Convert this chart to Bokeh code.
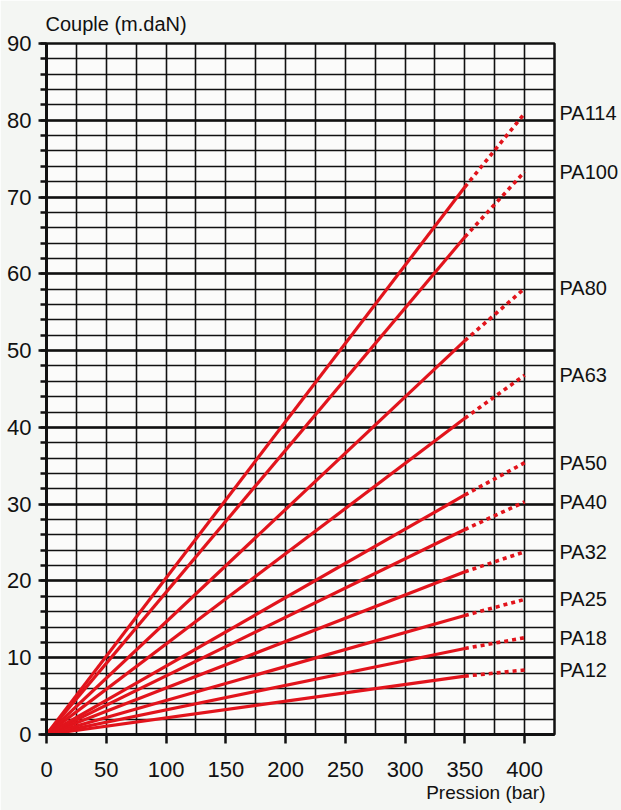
from bokeh.plotting import figure
from bokeh.models import (SingleIntervalTicker, FixedTicker, Range1d, Title,
                          LinearAxis)
from bokeh.embed import file_html
from bokeh.resources import INLINE

# ---- data ----
models = ["PA12", "PA18", "PA25", "PA32", "PA40", "PA50", "PA63", "PA80", "PA100", "PA114"]
torque_350 = [7.6, 11.2, 15.5, 21.2, 26.7, 31.2, 41.2, 51.3, 64.8, 71.3]   # m.daN at 350 bar
torque_400 = [8.4, 12.6, 17.6, 23.8, 30.3, 35.4, 46.8, 58.1, 73.3, 80.9]   # m.daN at 400 bar
pressure_solid = [0, 350]
pressure_dotted = [350, 400]
x_tick_step = 50
y_tick_step = 10

RED = "#e2141c"
FONT = "'Liberation Sans', Arial, sans-serif"
INK = "#111111"

p = figure(width=621, height=810, output_backend="svg", toolbar_location=None,
           x_range=Range1d(0, 425), y_range=Range1d(0, 90),
           min_border_left=46, min_border_right=65, min_border_top=43,
           min_border_bottom=76)
p.border_fill_color = "#f4f6f3"
p.background_fill_color = "#fbfbfa"
p.outline_line_color = "#111111"
p.outline_line_width = 2.5

# title
p.title.text = "Couple (m.daN)"
p.title.text_font = FONT
p.title.text_font_size = "20px"
p.title.text_font_style = "normal"
p.title.text_color = INK
p.title.align = "left"
p.title.offset = -1
p.title.standoff = 18
p.title.text_line_height = 0.9

# grids
p.xgrid.ticker = SingleIntervalTicker(interval=25)
p.xgrid.grid_line_color = "#111111"
p.xgrid.grid_line_width = 1.6
p.ygrid.ticker = SingleIntervalTicker(interval=y_tick_step, num_minor_ticks=5)
p.ygrid.grid_line_color = "#111111"
p.ygrid.grid_line_width = 2.6
p.ygrid.minor_grid_line_color = "#111111"
p.ygrid.minor_grid_line_width = 1.4

# axes
p.xaxis.ticker = SingleIntervalTicker(interval=x_tick_step, num_minor_ticks=0)
p.yaxis.ticker = SingleIntervalTicker(interval=y_tick_step, num_minor_ticks=5)
for ax in (p.xaxis, p.yaxis):
    ax.axis_line_color = "#111111"
    ax.axis_line_width = 3
    ax.major_tick_line_color = "#111111"
    ax.major_tick_line_width = 2.5
    ax.major_tick_in = 0
    ax.minor_tick_in = 0
    ax.major_label_text_font = FONT
    ax.major_label_text_font_size = "22px"
    ax.major_label_text_color = INK
p.xaxis.major_tick_out = 9
p.xaxis.minor_tick_line_color = None
p.xaxis.major_label_standoff = 18
p.yaxis.major_tick_out = 8
p.yaxis.minor_tick_out = 6
p.yaxis.minor_tick_line_color = "#111111"
p.yaxis.minor_tick_line_width = 2.5
p.yaxis.major_label_standoff = 7

# right-hand model labels as an axis (not clipped to the frame)
ry = LinearAxis(ticker=FixedTicker(ticks=torque_400),
                major_label_overrides={v: m for v, m in zip(torque_400, models)})
ry.axis_line_color = None
ry.major_tick_line_color = None
ry.minor_tick_line_color = None
ry.major_tick_out = 0
ry.major_tick_in = 0
ry.major_label_standoff = 5
ry.major_label_text_font = FONT
ry.major_label_text_font_size = "20px"
ry.major_label_text_color = INK
p.add_layout(ry, "right")

# x axis title (below, right aligned)
xt = Title(text="Pression (bar)", align="right", text_font=FONT,
           text_font_size="19px", text_font_style="normal", text_color=INK,
           offset=9, standoff=0)
p.add_layout(xt, "below")

# curves
for m, v350, v400 in zip(models, torque_350, torque_400):
    p.line(pressure_solid, [0, v350], line_color=RED, line_width=3.2)
    p.line(pressure_dotted, [v350, v400], line_color=RED, line_width=3.6,
           line_dash="4 4")

open("out.html", "w").write(file_html(p, INLINE))
